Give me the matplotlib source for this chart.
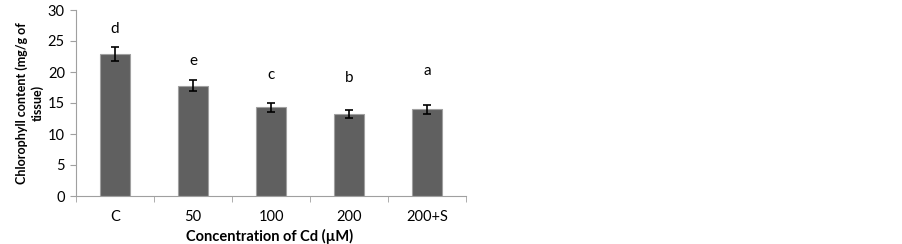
import numpy as np
import matplotlib
matplotlib.use('Agg')
import matplotlib.pyplot as plt

plt.rcParams['font.family'] = ['Lato', 'DejaVu Sans']

categories = ['C', '50', '100', '200', '200+S']
chlorophyll = [22.9, 17.8, 14.3, 13.3, 14.0]
errors = [1.1, 0.85, 0.7, 0.65, 0.7]
letters = ['d', 'e', 'c', 'b', 'a']
letter_heights = [26.9, 21.8, 19.5, 19.0, 20.2]

fig = plt.figure(figsize=(9.02, 2.44), dpi=100)
ax = fig.add_axes([76 / 902, 48 / 244, 390 / 902, 186 / 244])

x = np.arange(len(categories))
ax.bar(x, chlorophyll, width=0.39, color='#606060', edgecolor='#a0a0a0',
       linewidth=0.8, zorder=2)
ax.errorbar(x, chlorophyll, yerr=errors, fmt='none', ecolor='black',
            elinewidth=1.2, capsize=3, capthick=1.2, zorder=3)

for xi, letter, h in zip(x, letters, letter_heights):
    ax.text(xi, h, letter, ha='center', va='center', fontsize=11)

ax.set_xlim(-0.5, len(categories) - 0.5)
ax.set_ylim(0, 30)
ax.set_yticks(range(0, 31, 5))
ax.set_xticks(x)
ax.set_xticklabels(categories)
ax.set_xticks(np.arange(-0.5, len(categories)), minor=True)

for side in ['top', 'right']:
    ax.spines[side].set_visible(False)
for side in ['left', 'bottom']:
    ax.spines[side].set_color('#a0a0a0')

ax.tick_params(axis='x', which='major', length=0, pad=10, labelsize=10.5)
ax.tick_params(axis='x', which='minor', length=4, color='#a0a0a0', direction='out')
ax.tick_params(axis='y', length=4, color='#a0a0a0', direction='out', labelsize=10.5, pad=4)

ax.set_xlabel('Concentration of Cd (µM)', fontsize=10.5, fontweight='bold')
ax.xaxis.label.set_va('center')
ax.xaxis.set_label_coords(0.497, -0.22)
ax.set_ylabel('Chlorophyll content (mg/g of\ntissue)', fontsize=9,
              fontweight='bold', linespacing=1.3)
ax.yaxis.label.set_va('center')
ax.yaxis.set_label_coords(-0.12, 0.5)

plt.savefig('out.png', dpi=100)
